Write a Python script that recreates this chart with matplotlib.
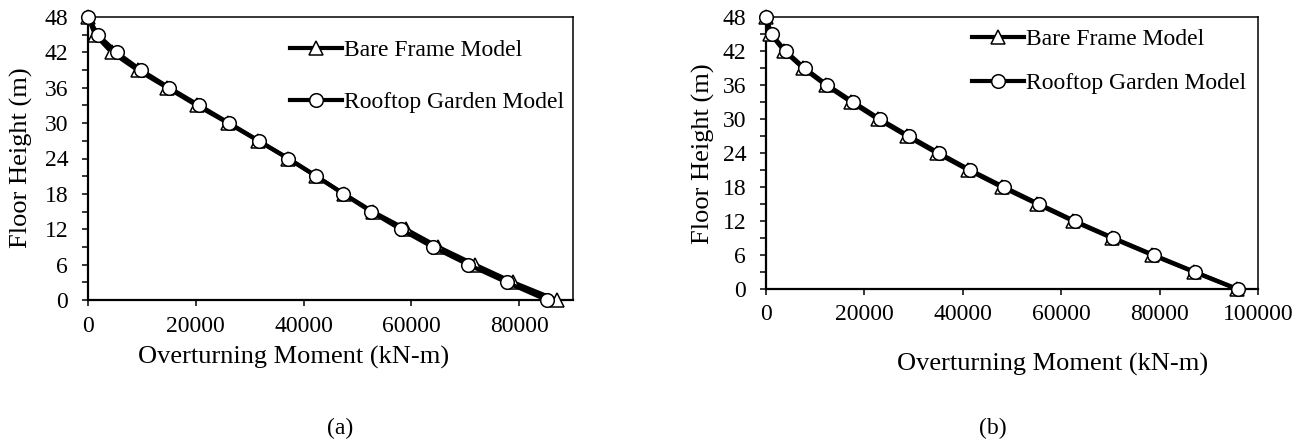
import matplotlib
matplotlib.use("Agg")
import matplotlib.pyplot as plt
from matplotlib.ticker import MultipleLocator

plt.rcParams['font.family'] = ['Liberation Serif', 'DejaVu Serif']

# ---- data ----
heights = [48, 45, 42, 39, 36, 33, 30, 27, 24, 21, 18, 15, 12, 9, 6, 3, 0]

bare_a = [0, 1300, 4400, 9200, 14700, 20200, 26000, 31600, 37100, 42300,
          47500, 52800, 59000, 65000, 71800, 78900, 86950]
roof_a = [0, 1800, 5300, 9800, 15100, 20650, 26200, 31700, 37200, 42400,
          47400, 52500, 58000, 63950, 70560, 77680, 85150]

bare_b = [0, 900, 3700, 7500, 12100, 17300, 22700, 28600, 34700, 41100,
          47900, 55100, 62400, 70300, 78500, 87000, 95700]
roof_b = [0, 1120, 3970, 7830, 12450, 17740, 23150, 29050, 35150, 41500,
          48370, 55490, 62750, 70620, 78800, 87220, 95840]

labels = ["Bare Frame Model", "Rooftop Garden Model"]
xlabel = "Overturning Moment (kN-m)"
ylabel = "Floor Height (m)"
captions = ["(a)", "(b)"]

W, H = 1309, 445
fig = plt.figure(figsize=(W / 100, H / 100), dpi=100)

def px_axes(l, t, r, b):
    return fig.add_axes([l / W, 1 - b / H, (r - l) / W, (b - t) / H])

ax1 = px_axes(88, 17, 573, 300)
ax2 = px_axes(766, 17, 1258, 289)

FS = 17

def style(ax, xmax, xpad, leg_xy, leg_sp):
    ax.set_xlim(0, xmax)
    ax.set_ylim(0, 48)
    ax.xaxis.set_major_locator(MultipleLocator(20000))
    ax.yaxis.set_major_locator(MultipleLocator(6))
    ax.yaxis.set_minor_locator(MultipleLocator(3))
    ax.tick_params(axis='both', which='both', direction='out', width=1.1,
                   length=4.3, labelsize=FS, color='black')
    ax.tick_params(axis='x', pad=xpad)
    ax.tick_params(axis='y', pad=10)
    for s in ['left', 'bottom']:
        ax.spines[s].set_linewidth(1.6)
    for s in ['top', 'right']:
        ax.spines[s].set_linewidth(1.1)
    leg = ax.legend(loc='upper left', bbox_to_anchor=leg_xy, frameon=False,
                    fontsize=FS, handlelength=2.2, handletextpad=0.1,
                    labelspacing=leg_sp, borderpad=0, borderaxespad=0)
    return leg

for ax, bx, rx in [(ax1, bare_a, roof_a), (ax2, bare_b, roof_b)]:
    ax.plot(bx, heights, color='black', lw=3, marker='^', markersize=9.5,
            markerfacecolor='white', markeredgecolor='black', markeredgewidth=1.1,
            clip_on=False, zorder=3, label=labels[0])
    ax.plot(rx, heights, color='black', lw=3, marker='o', markersize=9.8,
            markerfacecolor='white', markeredgecolor='black', markeredgewidth=1.1,
            clip_on=False, zorder=4, label=labels[1])

style(ax1, 90000, 7, (0.4165, 0.92), 1.3)
style(ax2, 100000, 6.5, (0.418, 0.958), 0.95)

fig.text(21 / W, 1 - 158 / H, ylabel, rotation=90, ha='center', va='center', fontsize=19)
fig.text(703 / W, 1 - 154 / H, ylabel, rotation=90, ha='center', va='center', fontsize=19)
fig.text(294 / W, 1 - 357 / H, xlabel, ha='center', va='center', fontsize=19)
fig.text(1053 / W, 1 - 364 / H, xlabel, ha='center', va='center', fontsize=19)
fig.text(340 / W, 1 - 428 / H, captions[0], ha='center', va='center', fontsize=17)
fig.text(993 / W, 1 - 428 / H, captions[1], ha='center', va='center', fontsize=17)

fig.savefig("out.png", dpi=100)
